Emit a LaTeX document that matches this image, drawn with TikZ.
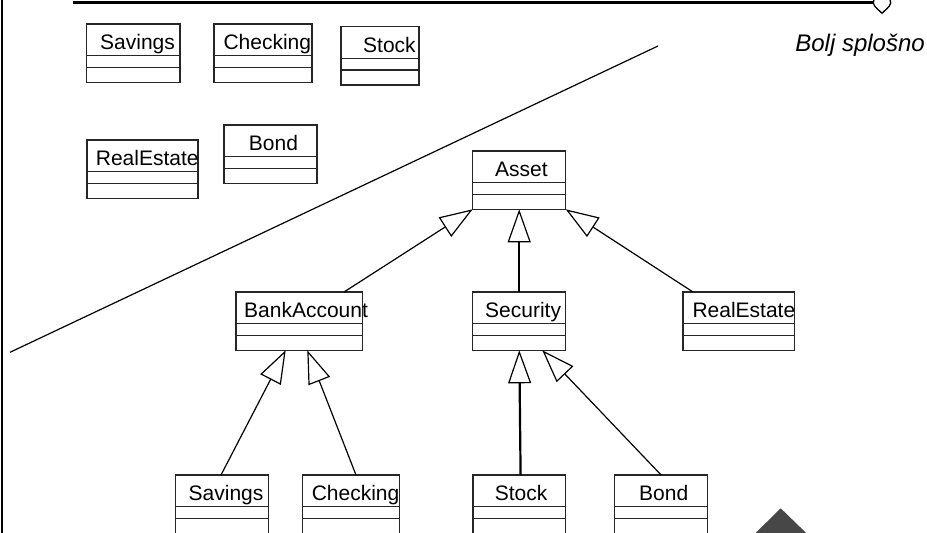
\documentclass[tikz,border=0pt]{standalone}
\usepackage{fontspec}
\setmainfont{Liberation Sans}
\usetikzlibrary{arrows.meta}
\tikzset{
  clsbox/.style={draw=black!85, line width=1.3pt, inner sep=0pt, outer sep=0pt, minimum height=58.3pt, fill=white},
  clslbl/.style={inner sep=0pt, anchor=base west, font=\fontsize{21}{25}\selectfont},
  gen/.style={line width=1.2pt, -{Triangle[open, length=33pt, width=23pt, line width=1.2pt]}},
  genthick/.style={line width=2.2pt, -{Triangle[open, length=33pt, width=23pt, line width=1.2pt]}},
}
\newcommand{\umlcls}[6]{%
  \node[clsbox, anchor=north west, minimum width={(#4-#2)*1pt}] (#1) at (#2,#3) {};
  \draw[line width=1.3pt, draw=black!85] ({#2},{#3+31.7}) -- ({#4},{#3+31.7}) ({#2},{#3+43.2}) -- ({#4},{#3+43.2});
  \node[clslbl] at ({#5},{#3+25.7}) {#6};
}
\begin{document}
\begin{tikzpicture}[x=1pt,y=-1pt]
\useasboundingbox (0,0) rectangle (927,533);
% frame lines
\draw[line width=2.4pt] (2.2,-5) -- (2.2,540);
\coordinate (tl) at (73,2.5);
\coordinate (tr) at (873.3,2.5);
\draw[line width=3pt] (tl) -- (tr);
\draw[line width=1.3pt, fill=white] (873.3,3) .. controls (874,7) and (879,10) .. (882,13.3) .. controls (885,10) and (890,7) .. (890.7,3) .. controls (890.7,-3) and (886,-6) .. (882,-6) .. controls (878,-6) and (873.3,-3) .. (873.3,3);
% diagonal separator
\coordinate (d1) at (10,352.3);
\coordinate (d2) at (658,46);
\draw[line width=1.2pt] (d1) -- (d2);
\node[inner sep=0pt, anchor=base east, font=\fontsize{24}{28}\selectfont\itshape] (gen) at (925,51.7) {Bolj splošno};
% unrelated classes
\umlcls{sav1}{86.7}{24}{180}{100}{Savings}
\umlcls{chk1}{214}{24}{312}{223.3}{Checking}
\umlcls{stk1}{341}{26.7}{419}{363}{Stock}
\umlcls{re1}{87}{140}{198}{95.7}{RealEstate}
\umlcls{bnd1}{224}{125}{317}{248.7}{Bond}
% hierarchy
\umlcls{asset}{472.7}{151}{565.7}{495}{Asset}
\umlcls{bank}{236}{292}{362.7}{244}{BankAccount}
\umlcls{sec}{472.7}{292}{565.7}{485}{Security}
\umlcls{re2}{683}{292}{794.7}{692.3}{RealEstate}
\umlcls{sav2}{175.5}{475}{268.4}{188.5}{Savings}
\umlcls{chk2}{302.7}{475}{399.6}{311.6}{Checking}
\umlcls{stk2}{472.9}{475}{565.7}{494.7}{Stock}
\umlcls{bnd2}{614.5}{475}{707.7}{639}{Bond}
% generalizations
\draw[gen] ([xshift=108pt]bank.north west) -- (asset.south west);
\draw[genthick] (sec.north) -- (asset.south);
\draw[gen] ([xshift=10pt]re2.north west) -- (asset.south east);
\draw[gen] ([xshift=45.5pt]sav2.north west) -- ([xshift=49.7pt]bank.south west);
\draw[gen] ([xshift=53.3pt]chk2.north west) -- ([xshift=71.3pt]bank.south west);
\draw[genthick] ([xshift=47.7pt]stk2.north west) -- ([xshift=46.6pt]sec.south west);
\draw[gen] (bnd2.north) -- ([xshift=69.6pt]sec.south west);
% corner triangle
\fill[fill=black!72] (755,533.5) -- (780.7,508.3) -- (806.7,533.5) -- cycle;
\end{tikzpicture}
\end{document}
